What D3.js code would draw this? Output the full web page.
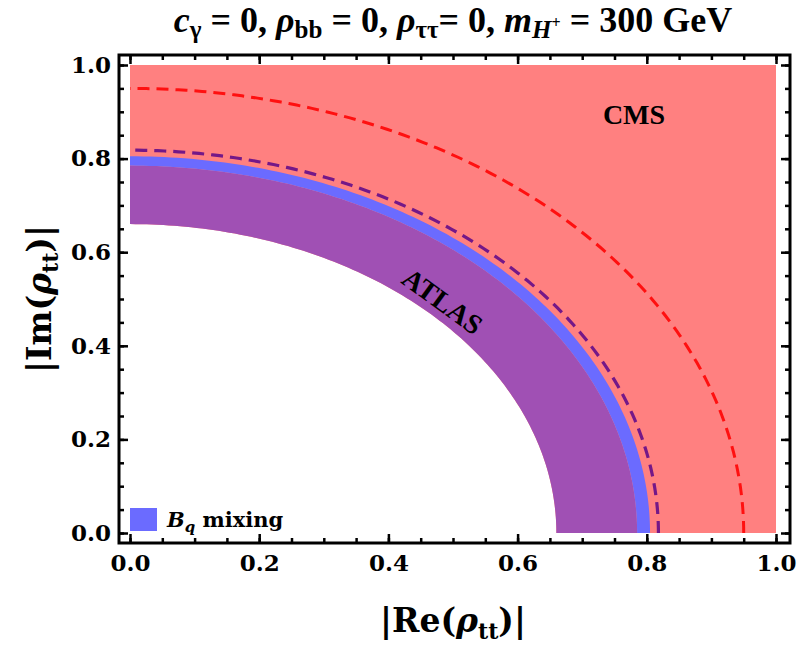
<!DOCTYPE html>
<html>
<head>
<meta charset="utf-8">
<script src="https://cdn.jsdelivr.net/npm/d3@7"></script>
<style>
  body { margin: 0; background: #fff; }
  text { font-family: "DejaVu Serif", serif; font-weight: bold; }
</style>
</head>
<body>
<div id="chart"></div>
<script>
// radii (in |rho_tt| units) of the constraint boundaries
const atlasInner = 0.66;   // ATLAS excluded outside this
const bqInner = 0.785;     // B_q mixing band
const bqOuter = 0.805;
const atlasDashed = 0.818;
const cmsDashed = 0.95;
const majorTicks = [0, 0.2, 0.4, 0.6, 0.8, 1.0];
const minorTicks = d3.range(0, 21).map((i) => i * 0.05);

const width = 800, height = 646;
const frame = { left: 119, right: 790, top: 55, bottom: 543 };

const svg = d3.select("#chart").append("svg")
  .attr("width", width).attr("height", height);

const x = d3.scaleLinear().domain([0, 1]).range([130, 776]);
const y = d3.scaleLinear().domain([0, 1]).range([533, 65]);

// quarter annulus path in data space
function annulus(r0, r1) {
  const n = 120;
  const outer = d3.range(n + 1).map((i) => {
    const t = (Math.PI / 2) * i / n;
    return [r1 * Math.cos(t), r1 * Math.sin(t)];
  });
  const inner = d3.range(n + 1).map((i) => {
    const t = (Math.PI / 2) * (n - i) / n;
    return [r0 * Math.cos(t), r0 * Math.sin(t)];
  });
  return d3.line().x((d) => x(d[0])).y((d) => y(d[1]))(outer.concat(inner)) + "Z";
}
function arc(r) {
  const n = 120;
  const pts = d3.range(n + 1).map((i) => {
    const t = (Math.PI / 2) * i / n;
    return [r * Math.cos(t), r * Math.sin(t)];
  });
  return d3.line().x((d) => x(d[0])).y((d) => y(d[1]))(pts);
}

// CMS region (whole square), then cut-outs
svg.append("rect")
  .attr("x", x(0)).attr("y", y(1))
  .attr("width", x(1) - x(0)).attr("height", y(0) - y(1))
  .attr("fill", "#ff8080");
svg.append("path").attr("d", annulus(0, atlasInner)).attr("fill", "#fff");
svg.append("path").attr("d", annulus(atlasInner, bqInner)).attr("fill", "#a050b4");
svg.append("path").attr("d", annulus(bqInner, bqOuter)).attr("fill", "#6b6bff");

// dashed boundaries
svg.append("path").attr("d", arc(atlasDashed))
  .attr("fill", "none").attr("stroke", "#741888")
  .attr("stroke-width", 3.2).attr("stroke-dasharray", "12,7");
svg.append("path").attr("d", arc(cmsDashed))
  .attr("fill", "none").attr("stroke", "#ff1010")
  .attr("stroke-width", 3).attr("stroke-dasharray", "12,7");

// frame
svg.append("rect")
  .attr("x", frame.left).attr("y", frame.top)
  .attr("width", frame.right - frame.left).attr("height", frame.bottom - frame.top)
  .attr("fill", "none").attr("stroke", "#000").attr("stroke-width", 3);

// ticks (inward, all four sides)
function ticks(axisFn, scale, vals, size, translate, labels) {
  const g = svg.append("g")
    .attr("transform", translate)
    .call(axisFn(scale).tickValues(vals).tickSize(-size)
      .tickFormat(labels ? d3.format(".1f") : "").tickPadding(12));
  g.select(".domain").remove();
  g.selectAll("line").attr("stroke", "#000").attr("stroke-width", 2.5);
  g.selectAll("text").style("font-size", "23px")
    .style("font-family", "DejaVu Serif").style("font-weight", "bold");
  return g;
}
ticks(d3.axisBottom, x, minorTicks, 5, `translate(0,${frame.bottom})`, false);
ticks(d3.axisBottom, x, majorTicks, 9, `translate(0,${frame.bottom})`, true);
ticks(d3.axisTop, x, minorTicks, 5, `translate(0,${frame.top})`, false);
ticks(d3.axisTop, x, majorTicks, 9, `translate(0,${frame.top})`, false);
ticks(d3.axisLeft, y, minorTicks, 5, `translate(${frame.left},0)`, false);
ticks(d3.axisLeft, y, majorTicks, 9, `translate(${frame.left},0)`, true)
  .selectAll("text").attr("x", -8);
ticks(d3.axisRight, y, minorTicks, 5, `translate(${frame.right},0)`, false);
ticks(d3.axisRight, y, majorTicks, 9, `translate(${frame.right},0)`, false);

// title
const title = svg.append("text")
  .attr("x", 453).attr("y", 32).attr("text-anchor", "middle")
  .style("font-family", "Liberation Serif").style("font-size", "36px");
title.append("tspan").style("font-style", "italic").text("c");
title.append("tspan").attr("dy", 6).style("font-size", "25px").text("γ");
title.append("tspan").attr("dy", -6).text(" = 0, ");
title.append("tspan").style("font-style", "italic").text("ρ");
title.append("tspan").attr("dy", 6).style("font-size", "25px").text("bb");
title.append("tspan").attr("dy", -6).text(" = 0, ");
title.append("tspan").style("font-style", "italic").text("ρ");
title.append("tspan").attr("dy", 6).style("font-size", "25px").text("ττ");
title.append("tspan").attr("dy", -6).text("= 0, ");
title.append("tspan").style("font-style", "italic").text("m");
title.append("tspan").attr("dy", 6).style("font-size", "25px").style("font-style", "italic").text("H");
title.append("tspan").attr("dy", -10).style("font-size", "16px").text("+");
title.append("tspan").attr("dy", 4).text(" = 300 GeV");

// axis labels
const xl = svg.append("text")
  .attr("x", 453).attr("y", 632).attr("text-anchor", "middle")
  .style("font-size", "33px");
xl.append("tspan").text("|Re(");
xl.append("tspan").style("font-style", "italic").text("ρ");
xl.append("tspan").attr("dy", 7).style("font-size", "22px").text("tt");
xl.append("tspan").attr("dy", -7).text(")|");

const yl = svg.append("text")
  .attr("transform", "translate(51,299) rotate(-90)").attr("text-anchor", "middle")
  .style("font-size", "33px");
yl.append("tspan").text("|Im(");
yl.append("tspan").style("font-style", "italic").text("ρ");
yl.append("tspan").attr("dy", 7).style("font-size", "22px").text("tt");
yl.append("tspan").attr("dy", -7).text(")|");

// region labels
svg.append("text").attr("x", 634).attr("y", 124).attr("text-anchor", "middle")
  .style("font-family", "Liberation Serif").style("font-size", "28px").text("CMS");
svg.append("text").attr("transform", "translate(437,309) rotate(36)")
  .attr("text-anchor", "middle")
  .style("font-family", "Liberation Serif").style("font-size", "28px").text("ATLAS");

// legend
svg.append("rect").attr("x", 130).attr("y", 508)
  .attr("width", 27).attr("height", 23).attr("fill", "#6b6bff");
const lg = svg.append("text").attr("x", 167).attr("y", 527)
  .style("font-size", "21px");
lg.append("tspan").style("font-style", "italic").text("B");
lg.append("tspan").attr("dy", 5).style("font-size", "15px").style("font-style", "italic").text("q");
lg.append("tspan").attr("dy", -5).text(" mixing");
</script>
</body>
</html>
